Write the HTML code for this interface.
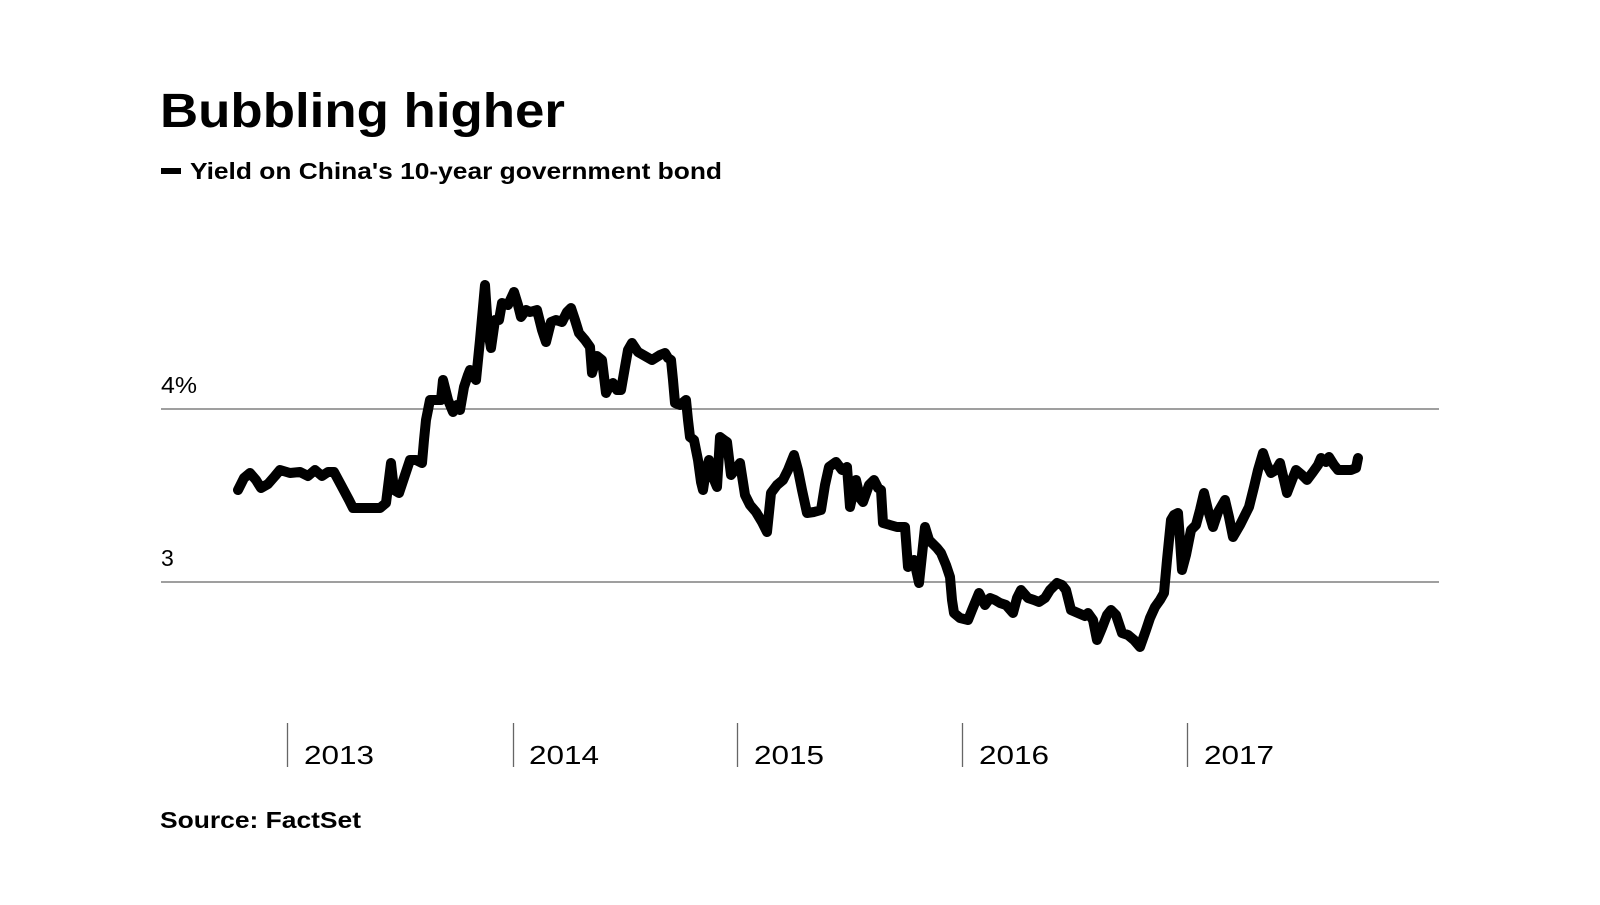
<!DOCTYPE html>
<html><head><meta charset="utf-8"><style>
html,body{margin:0;padding:0;background:#fff;}
body{width:1600px;height:900px;overflow:hidden;}
</style></head><body>
<svg width="1600" height="900" viewBox="0 0 1600 900" xmlns="http://www.w3.org/2000/svg">
<text x="160" y="127" font-family="Liberation Sans, sans-serif" font-weight="bold" font-size="48" textLength="405" lengthAdjust="spacingAndGlyphs" fill="#000">Bubbling higher</text>
<rect x="161" y="168" width="20" height="6" fill="#000"/>
<text x="190" y="179" font-family="Liberation Sans, sans-serif" font-weight="bold" font-size="23" textLength="532" lengthAdjust="spacingAndGlyphs" fill="#000">Yield on China's 10-year government bond</text>
<line x1="161" y1="409" x2="1439" y2="409" stroke="#666" stroke-width="1.3"/>
<line x1="161" y1="582" x2="1439" y2="582" stroke="#666" stroke-width="1.3"/>
<text x="161" y="393" font-family="Liberation Sans, sans-serif" font-size="23" textLength="36" lengthAdjust="spacingAndGlyphs" fill="#000">4%</text>
<text x="161" y="566" font-family="Liberation Sans, sans-serif" font-size="23" fill="#000">3</text>
<g stroke="#666" stroke-width="1.3">
<line x1="287.5" y1="723" x2="287.5" y2="767"/>
<line x1="513.5" y1="723" x2="513.5" y2="767"/>
<line x1="737.5" y1="723" x2="737.5" y2="767"/>
<line x1="962.5" y1="723" x2="962.5" y2="767"/>
<line x1="1187.5" y1="723" x2="1187.5" y2="767"/>
</g>
<g font-family="Liberation Sans, sans-serif" font-size="26" fill="#000">
<text x="304" y="764" textLength="70" lengthAdjust="spacingAndGlyphs">2013</text>
<text x="529" y="764" textLength="70" lengthAdjust="spacingAndGlyphs">2014</text>
<text x="754" y="764" textLength="70" lengthAdjust="spacingAndGlyphs">2015</text>
<text x="979" y="764" textLength="70" lengthAdjust="spacingAndGlyphs">2016</text>
<text x="1204" y="764" textLength="70" lengthAdjust="spacingAndGlyphs">2017</text>
</g>
<polyline fill="none" stroke="#000" stroke-width="10" stroke-linejoin="round" stroke-linecap="round" points="
238,490 244,478 250,473 256,480 261,488 268,484 275,476 280,470 290,473 300,472 308,476 315,470 322,476 328,472 334,472 341,485 349,500 353,508 362,508 372,508 380,508 386,503 391,463 394,490 399,493 404,478 410,460 416,460 422,463 424,440 426,420 430,400 436,400 441,400 443,380 448,400 453,412 457,405 460,410 464,387 468,375 470,370 476,380 480,340 485,285 488,330 491,348 495,320 499,320 502,303 508,305 514,292 518,305 521,317 526,310 530,312 537,310 542,330 546,342 551,322 556,320 562,322 567,312 571,308 575,320 579,333 585,340 590,347 592,373 597,356 602,360 606,393 610,385 613,383 617,390 621,390 625,367 628,350 632,343 638,352 645,356 652,360 660,355 665,353 668,358 671,360 673,380 675,403 680,405 686,400 688,420 690,437 694,440 698,460 701,482 703,490 706,470 709,460 712,475 717,487 720,437 724,440 727,442 731,475 735,470 740,463 745,495 750,505 756,512 762,522 767,532 771,493 777,485 783,480 788,470 794,455 798,470 802,490 807,513 814,512 821,510 825,485 829,467 836,462 842,470 847,467 850,507 856,480 860,498 863,502 869,485 874,480 878,488 881,490 883,523 890,525 897,527 905,527 908,567 914,560 919,583 922,555 925,527 929,540 932,543 937,548 941,553 946,565 950,577 952,600 954,613 960,618 968,620 972,610 979,593 985,605 990,598 995,600 1000,603 1006,605 1013,613 1017,598 1021,590 1028,598 1034,600 1039,602 1045,598 1050,590 1057,583 1062,585 1066,590 1071,610 1078,613 1085,616 1088,613 1093,620 1097,640 1102,628 1107,615 1111,610 1116,615 1122,633 1128,635 1134,640 1140,647 1146,630 1150,618 1155,607 1160,600 1164,593 1167,560 1171,520 1174,515 1178,513 1180,540 1182,570 1186,555 1191,530 1196,525 1200,510 1204,493 1208,510 1213,527 1218,512 1225,500 1229,517 1233,537 1240,525 1245,515 1249,507 1254,487 1258,470 1263,453 1267,465 1271,473 1276,470 1280,463 1284,480 1287,493 1292,480 1296,470 1302,475 1307,480 1313,472 1318,465 1321,458 1326,462 1329,457 1334,465 1338,470 1345,470 1351,470 1356,468 1358,458"/>
<text x="160" y="828" font-family="Liberation Sans, sans-serif" font-weight="bold" font-size="23" textLength="201" lengthAdjust="spacingAndGlyphs" fill="#000">Source: FactSet</text>
</svg>
</body></html>
